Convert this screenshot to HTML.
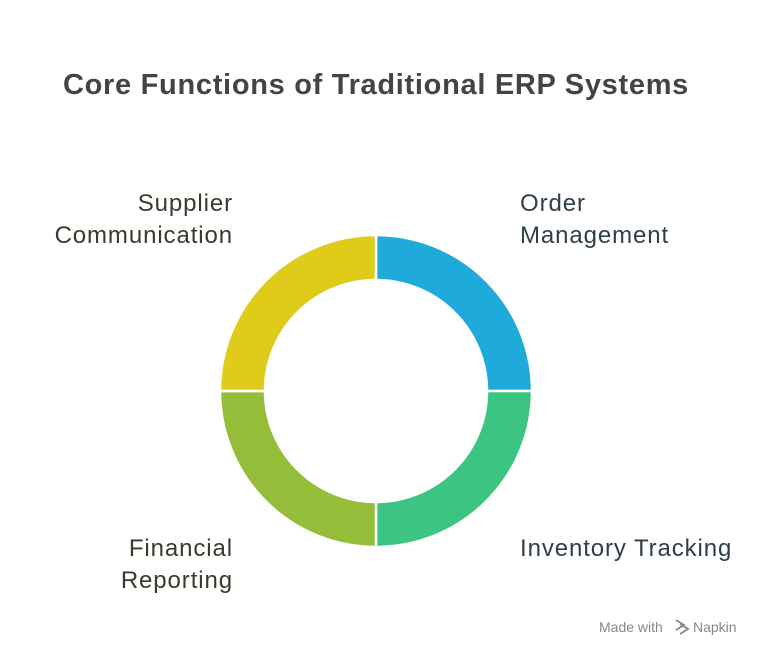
<!DOCTYPE html>
<html><head><meta charset="utf-8"><style>
body{margin:0;width:768px;height:658px;background:#fff;position:relative;font-family:"Liberation Sans",sans-serif;overflow:hidden}
.t{position:absolute;white-space:nowrap}
.l{font-size:24px;line-height:32px;color:#3b3a2a;letter-spacing:0.9px}
.r{font-size:24px;line-height:32px;color:#2f3f46;letter-spacing:0.9px}
</style></head><body>
<div class="t" style="left:63px;top:69px;font-size:29px;font-weight:bold;color:#444;letter-spacing:0.7px">Core Functions of Traditional ERP Systems</div>
<div class="t l" style="right:535px;top:188px;text-align:right">Supplier<br>Communication</div>
<div class="t r" style="left:520px;top:188px">Order<br>Management</div>
<div class="t r" style="left:520px;top:533px">Inventory Tracking</div>
<div class="t l" style="right:535px;top:533px;text-align:right">Financial<br>Reporting</div>
<svg width="768" height="658" style="position:absolute;left:0;top:0">
<g stroke="#fff" stroke-width="2.5">
<path d="M376 235 A156 156 0 0 1 532 391 L487 391 A111 111 0 0 0 376 280 Z" fill="#1EAADB"/>
<path d="M532 391 A156 156 0 0 1 376 547 L376 502 A111 111 0 0 0 487 391 Z" fill="#3CC482"/>
<path d="M376 547 A156 156 0 0 1 220 391 L265 391 A111 111 0 0 0 376 502 Z" fill="#94BE3A"/>
<path d="M220 391 A156 156 0 0 1 376 235 L376 280 A111 111 0 0 0 265 391 Z" fill="#DFCC1A"/>
</g>
<text x="599" y="632" font-family="Liberation Sans" font-size="14" fill="#888">Made with</text>
<path d="M676 620 l8 5 -8 5 M680 624 l8 5 -8 5" stroke="#888" stroke-width="1.8" fill="none"/>
<text x="693" y="632" font-family="Liberation Sans" font-size="14" fill="#888">Napkin</text>
</svg>
</body></html>
